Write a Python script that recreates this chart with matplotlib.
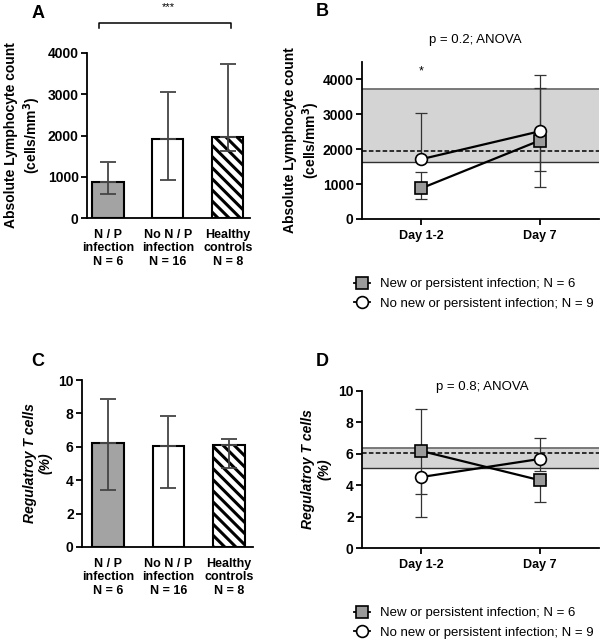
import numpy as np
import matplotlib
matplotlib.use("Agg")
import matplotlib.pyplot as plt
from matplotlib.lines import Line2D

plt.rcParams['font.family'] = ['Liberation Sans', 'DejaVu Sans']
plt.rcParams['hatch.linewidth'] = 2.2
plt.rcParams['hatch.color'] = 'black'

# bar panels (A, C)
groups = ["N / P\ninfection\nN = 6", "No N / P\ninfection\nN = 16", "Healthy\ncontrols\nN = 8"]
lymph_mean = [880, 1925, 1970]
lymph_lo = [580, 930, 1615]
lymph_hi = [1360, 3050, 3730]
treg_mean = [6.2, 6.06, 6.1]
treg_lo = [3.4, 3.56, 4.76]
treg_hi = [8.86, 7.86, 6.44]

# time course panels (B, D)
days = ["Day 1-2", "Day 7"]
lymph_np = [880, 2250]
lymph_np_lo = [580, 1363]
lymph_np_hi = [1352, 3763]
lymph_no = [1714, 2514]
lymph_no_lo = [1714, 906]
lymph_no_hi = [3038, 4129]
lymph_ref = [1620, 1950, 3720]   # low, dashed mean, high

treg_np = [6.18, 4.32]
treg_np_lo = [3.41, 2.94]
treg_np_hi = [8.84, 4.32]
treg_no = [4.52, 5.67]
treg_no_lo = [1.99, 4.91]
treg_no_hi = [4.52, 7.01]
treg_ref = [5.12, 6.06, 6.38]

leg_labels = ["New or persistent infection; N = 6", "No new or persistent infection; N = 9"]

W, H = 600, 643
fig = plt.figure(figsize=(W / 100, H / 100), dpi=100)

def rect(l, r, t, b):
    return [l / W, 1 - b / H, (r - l) / W, (b - t) / H]

def style(ax):
    for s in ['top', 'right']:
        ax.spines[s].set_visible(False)
    for s in ['left', 'bottom']:
        ax.spines[s].set_linewidth(1.3)
    ax.tick_params(axis='y', direction='out', length=4, width=1.3, labelsize=10, pad=2)
    for lab in ax.get_yticklabels():
        lab.set_fontweight('bold')

def bar_panel(ax, mean, lo, hi, ylim, yticks, ylabel, italic=False):
    x = np.arange(len(mean))
    cols = ['#a3a3a3', 'white', 'white']
    hatches = [None, None, '\\\\\\']
    m = np.array(mean)
    err = [m - np.array(lo), np.array(hi) - m]
    ax.errorbar(x, m, yerr=err, fmt='none', ecolor='#555555', elinewidth=1.3,
                capsize=6, capthick=1.3, zorder=1)
    for i in range(len(m)):
        ax.bar(x[i], m[i], width=0.52, color=cols[i], edgecolor='black',
               linewidth=1.5, hatch=hatches[i], zorder=2)
    ax.errorbar(x, m, yerr=[np.zeros_like(m), np.array(hi) - m], fmt='none', ecolor='#555555',
                elinewidth=1.3, capsize=6, capthick=1.3, zorder=3)
    ax.errorbar(x, m, yerr=[m - np.array(lo), np.zeros_like(m)], fmt='none', ecolor='#444444',
                elinewidth=1.3, capsize=6, capthick=1.3, zorder=3)
    ax.set_ylim(*ylim)
    ax.set_yticks(yticks)
    ax.set_xticks(x)
    ax.set_xticklabels(groups, fontsize=9, fontweight='bold', linespacing=1.15)
    ax.tick_params(axis='x', length=0, pad=8)
    style(ax)
    ax.set_ylabel(ylabel, fontsize=10, fontweight='bold', style='italic' if italic else 'normal',
                  linespacing=1.2)

def line_panel(ax, np_m, np_lo, np_hi, no_m, no_lo, no_hi, ref, ylim, yticks, ylabel, italic=False):
    x = np.arange(len(days))
    ax.axhspan(ref[0], ref[2], color='#d4d4d4', lw=0, zorder=0)
    ax.axhline(ref[2], color='#707070', lw=1.3, zorder=1)
    ax.axhline(ref[0], color='#303030', lw=1.0, zorder=1)
    ax.axhline(ref[1], color='black', lw=1.1, ls=(0, (3, 1.5)), zorder=1)
    for m, lo, hi in [(np_m, np_lo, np_hi), (no_m, no_lo, no_hi)]:
        m = np.array(m)
        ax.errorbar(x, m, yerr=[m - np.array(lo), np.array(hi) - m], fmt='none',
                    ecolor='#333333', elinewidth=0.9, capsize=4, capthick=0.9, zorder=2)
    ax.plot(x, np_m, '-s', color='black', lw=1.6, ms=8, mfc='#9a9a9a', mec='black', mew=1.2, zorder=3)
    ax.plot(x, no_m, '-o', color='black', lw=1.6, ms=8.5, mfc='white', mec='black', mew=1.2, zorder=4)
    ax.set_xlim(-0.5, 1.5)
    ax.set_ylim(*ylim)
    ax.set_yticks(yticks)
    ax.set_xticks(x)
    ax.set_xticklabels(days, fontsize=9, fontweight='bold')
    ax.tick_params(axis='x', direction='out', length=4, width=1.3, pad=4)
    style(ax)
    ax.set_ylabel(ylabel, fontsize=10, fontweight='bold', style='italic' if italic else 'normal',
                  linespacing=1.2)

lymph_label = "Absolute Lymphocyte count\n(cells/mm$^\\mathbf{3}$)"
treg_label = "Regulatroy T cells\n(%)"

# A
axA = fig.add_axes(rect(87, 250, 53, 218))
bar_panel(axA, lymph_mean, lymph_lo, lymph_hi, (0, 4000), [0, 1000, 2000, 3000, 4000], lymph_label)
axA.set_xlim(-0.35, 2.37)
axA.yaxis.set_label_coords(-0.27, 0.5)
axA.plot([-0.145, -0.145, 2.06, 2.06], [4606, 4727, 4727, 4606], color='black', lw=1.1, clip_on=False)
axA.text(1.0, 5115, "***", ha='center', va='center', fontsize=8, clip_on=False)

# C
axC = fig.add_axes(rect(82, 253, 380, 547))
bar_panel(axC, treg_mean, treg_lo, treg_hi, (0, 10), [0, 2, 4, 6, 8, 10], treg_label, italic=True)
axC.set_xlim(-0.43, 2.4)
axC.yaxis.set_label_coords(-0.17, 0.5)

# B
axB = fig.add_axes(rect(362, 599, 62, 219))
line_panel(axB, lymph_np, lymph_np_lo, lymph_np_hi, lymph_no, lymph_no_lo, lymph_no_hi, lymph_ref,
           (0, 4500), [0, 1000, 2000, 3000, 4000], lymph_label)
axB.yaxis.set_label_coords(-0.17, 0.5)
axB.text(0, 4230, "*", ha='center', va='center', fontsize=9)
fig.text(475 / W, 1 - 40 / H, "p = 0.2; ANOVA", ha='center', va='center', fontsize=9.5)

# D
axD = fig.add_axes(rect(362, 599, 391, 548))
line_panel(axD, treg_np, treg_np_lo, treg_np_hi, treg_no, treg_no_lo, treg_no_hi, treg_ref,
           (0, 10), [0, 2, 4, 6, 8, 10], treg_label, italic=True)
axD.yaxis.set_label_coords(-0.13, 0.5)
fig.text(482 / W, 1 - 387 / H, "p = 0.8; ANOVA", ha='center', va='center', fontsize=9.5)

# legends
handles = [Line2D([], [], ls='-', color='black', lw=1.3, marker='s', ms=8, mfc='#9a9a9a', mec='black', mew=1.2),
           Line2D([], [], ls='-', color='black', lw=1.3, marker='o', ms=8.5, mfc='white', mec='black', mew=1.2)]
for ytop in [278, 607]:
    fig.legend(handles, leg_labels, loc='upper left', bbox_to_anchor=(354 / W, 1 - ytop / H),
               frameon=False, fontsize=9.5, handlelength=1.2, handletextpad=0.75,
               labelspacing=0.55, borderpad=0, borderaxespad=0)

# panel letters
for letter, px, py in [("A", 38, 13), ("B", 322, 12), ("C", 38, 362), ("D", 322, 362)]:
    fig.text(px / W, 1 - py / H, letter, ha='center', va='center', fontsize=13, fontweight='bold')

fig.savefig("out.png", dpi=100)
